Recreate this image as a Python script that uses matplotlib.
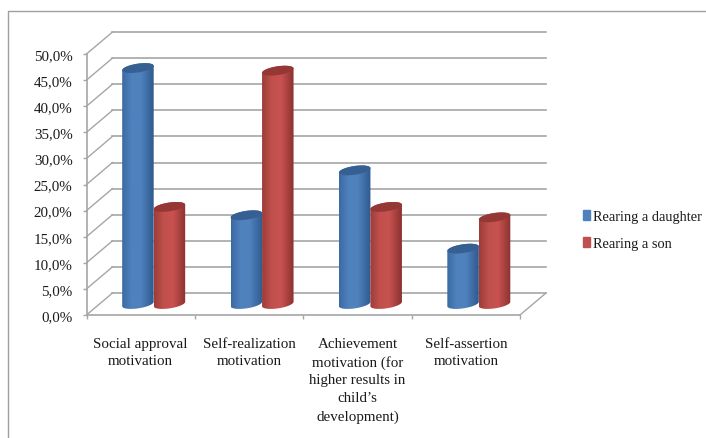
import matplotlib
matplotlib.use('Agg')
import matplotlib.pyplot as plt
import numpy as np
from matplotlib.colors import LinearSegmentedColormap
from matplotlib.lines import Line2D
from matplotlib.patches import PathPatch, Patch
from matplotlib.path import Path

categories = [
    'Social approval\nmotivation',
    'Self-realization\nmotivation',
    'Achievement\nmotivation (for\nhigher results in\nchild\u2019s\ndevelopment)',
    'Self-assertion\nmotivation',
]
daughter = [45.2, 17.0, 25.6, 10.6]
son = [18.6, 44.7, 18.6, 16.6]
y_ticks = [0, 5, 10, 15, 20, 25, 30, 35, 40, 45, 50]
y_labels = ['0,0%', '5,0%', '10,0%', '15,0%', '20,0%', '25,0%',
            '30,0%', '35,0%', '40,0%', '45,0%', '50,0%']

GRID = '#a6a6a6'
BLUE = ['#3c6ba3', '#4f81bd', '#4f81bd', '#2f5a8e']
BLUE_TOP = '#376092'
RED = ['#9c3d3a', '#c0504d', '#c8524f', '#8a3230']
RED_TOP = '#953735'

# wall depth, in data units
DEPTH_X = 26 / 108.4
DEPTH_Y = 22 / 5.22
BAR_W = 31.5 / 108.4
ELL_H = 4.4 / 5.22   # half height of the cylinder ends
TILT = 2.2 / 5.22    # the ends lean up to the right

plt.rcParams['font.family'] = ['Liberation Serif', 'DejaVu Serif']
plt.rcParams['font.size'] = 10.8

fig = plt.figure(figsize=(7.06, 4.39), dpi=100)
ax = fig.add_axes([86.5 / 706, (439 - 316) / 439, 433.5 / 706, 261 / 439])
ax.patch.set_visible(False)


def draw_cylinder(ax, x0, value, colors, top_color, zorder):
    # outline: lower half of the base ellipse, then back along the top edge
    xc = x0 + BAR_W / 2
    yb = DEPTH_Y / 2
    yt = yb + value
    t = np.linspace(np.pi, 2 * np.pi, 40)
    xs = xc + BAR_W / 2 * np.cos(t)
    low = yb + ELL_H * np.sin(t) + TILT * np.cos(t)
    t2 = t - np.pi
    xs2 = xc + BAR_W / 2 * np.cos(t2)
    up = yt + ELL_H * np.sin(t2) + TILT * np.cos(t2)
    body = np.column_stack([np.r_[xs, xs2], np.r_[low, up]])
    clip = PathPatch(Path(np.vstack([body, body[0]])), fc='none', ec='none',
                     transform=ax.transData)
    ax.add_patch(clip)
    cmap = LinearSegmentedColormap.from_list('shade', list(zip([0, 0.3, 0.6, 1], colors)))
    grad = np.linspace(0, 1, 64).reshape(1, -1)
    im = ax.imshow(grad, cmap=cmap, aspect='auto', zorder=zorder,
                   extent=[x0, x0 + BAR_W, yb - 2 * ELL_H, yt + 2 * ELL_H])
    im.set_clip_path(clip)
    # top cap
    t3 = np.linspace(0, 2 * np.pi, 80)
    cap = np.column_stack([xc + BAR_W / 2 * np.cos(t3),
                           yt + ELL_H * np.sin(t3) + TILT * np.cos(t3)])
    ax.fill(cap[:, 0], cap[:, 1], color=top_color, lw=0, zorder=zorder + 0.1)


# back wall grid and the slanted lines on the side wall
for v in y_ticks:
    ax.plot([DEPTH_X, 4 + DEPTH_X], [v + DEPTH_Y, v + DEPTH_Y], color=GRID, lw=1.2,
            clip_on=False, zorder=1)
    ax.plot([0, DEPTH_X], [v, v + DEPTH_Y], color=GRID, lw=1.0, clip_on=False, zorder=1)
ax.plot([4, 4 + DEPTH_X], [0, DEPTH_Y], color=GRID, lw=1.0, clip_on=False, zorder=1)

for i in range(len(categories)):
    left = i + 0.5 + DEPTH_X / 2 - BAR_W
    draw_cylinder(ax, left, daughter[i], BLUE, BLUE_TOP, 3)
    draw_cylinder(ax, left + BAR_W, son[i], RED, RED_TOP, 4)

ax.set_xlim(0, 4)
ax.set_ylim(0, 50)

for s in ['top', 'right']:
    ax.spines[s].set_visible(False)
for s in ['left', 'bottom']:
    ax.spines[s].set_color(GRID)
    ax.spines[s].set_linewidth(1.2)

ax.set_yticks(y_ticks)
ax.set_yticklabels(y_labels, color='#1a1a1a')
ax.tick_params(axis='y', color=GRID, width=1.0, length=3, pad=7)
ax.set_xticks([0, 1, 2, 3, 4])
ax.set_xticklabels([])
ax.tick_params(axis='x', which='major', color=GRID, width=1.0, length=3)
ax.set_xticks([0.5, 1.5, 2.5, 3.5], minor=True)
ax.set_xticklabels(categories, minor=True, color='#1a1a1a', linespacing=1.48)
ax.tick_params(axis='x', which='minor', length=0, pad=15.5)

handles = [Patch(color='#4f81bd', label='Rearing a daughter'),
           Patch(color='#c0504d', label='Rearing a son')]
ax.legend(handles=handles, loc='center left', frameon=False, fontsize=10.4,
          bbox_to_anchor=(583 / 706, (439 - 231) / 439),
          bbox_transform=fig.transFigure, handlelength=0.5, handleheight=0.65,
          handletextpad=0.2, labelspacing=1.0, borderpad=0, borderaxespad=0,
          labelcolor='#1a1a1a')

# outer chart frame, open on the right and bottom
fig.add_artist(Line2D([7.5 / 706, 7.5 / 706, 1], [0, 1 - 11.5 / 439, 1 - 11.5 / 439],
                      color='#a0a0a0', lw=1.0))

fig.savefig('out.png', dpi=100)
